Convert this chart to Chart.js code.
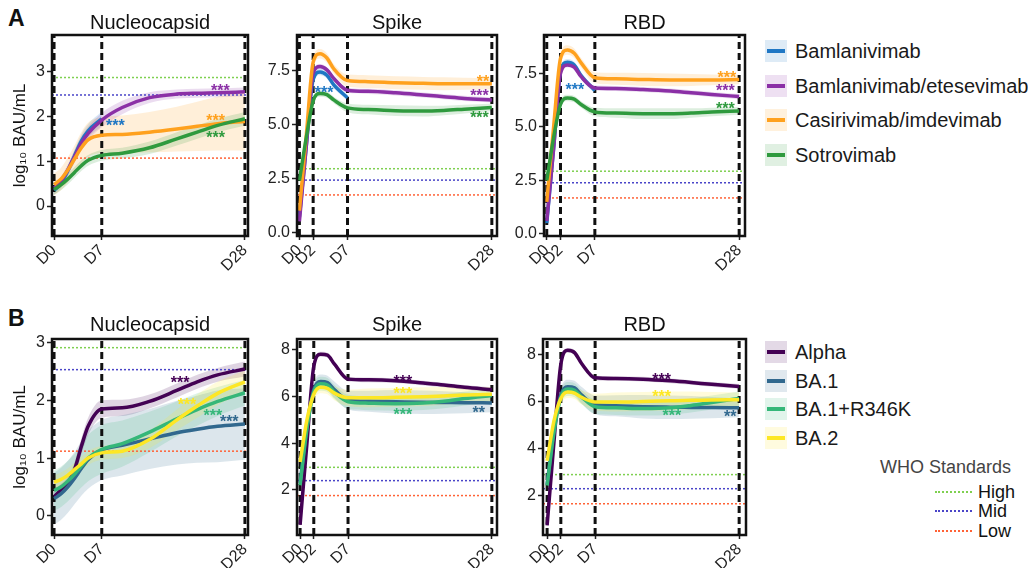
<!DOCTYPE html>
<html lang="en">
<head>
<meta charset="UTF-8">
<title>Antibody kinetics after monoclonal antibody treatment</title>
<script src="https://cdn.jsdelivr.net/npm/chart.js@4"></script>
<style>
  body { margin: 0; background: #fff; font-family: "Liberation Sans", Arial, Helvetica, sans-serif; }
  #fig { position: relative; width: 1028px; height: 568px; overflow: hidden; }
  #fig canvas { position: absolute; }
  .txt { position: absolute; white-space: nowrap; line-height: 1; }
  .letter { font-weight: bold; font-size: 23px; color: #111; }
  .sw { position: absolute; width: 22px; height: 22px; }
  .sw i { position: absolute; left: 2px; right: 2px; top: 9px; height: 4px; }
</style>
</head>
<body>
<div id="fig">
  <div class="txt letter" style="left:8px;top:7px">A</div>
  <div class="txt letter" style="left:8px;top:307px">B</div>
  <canvas id="a1" width="256" height="280" style="left:0;top:0"></canvas>
  <canvas id="a2" width="248" height="280" style="left:256px;top:0"></canvas>
  <canvas id="a3" width="256" height="280" style="left:504px;top:0"></canvas>
  <canvas id="b1" width="256" height="278" style="left:0;top:290px"></canvas>
  <canvas id="b2" width="248" height="278" style="left:256px;top:290px"></canvas>
  <canvas id="b3" width="256" height="278" style="left:504px;top:290px"></canvas>
</div>
<script>
// sampling days (x) shared by every curve
const days = [0, 1, 2, 3, 4, 5, 7, 10, 14, 18, 21, 24, 28];
const nucCutDays = [0, 7, 28];
const spikeCutDays = [0, 2, 7, 28];

const mabNames = ['Bamlanivimab', 'Bamlanivimab/etesevimab', 'Casirivimab/imdevimab', 'Sotrovimab'];
const mabColors = ['#1f77c4', '#8b30a6', '#ffa11e', '#2f9a3e'];
const variantNames = ['Alpha', 'BA.1', 'BA.1+R346K', 'BA.2'];
const variantColors = ['#440154', '#31688e', '#35b779', '#fde725'];
const whoNames = ['High', 'Mid', 'Low'];
const whoColors = ['#7fd050', '#4a45c8', '#ff6236'];

// y ticks
const nucTicks = [0, 1, 2, 3];
const nucTickLabels = ['0', '1', '2', '3'];
const aSpikeTicks = [0, 2.5, 5, 7.5];
const aSpikeTickLabels = ['0.0', '2.5', '5.0', '7.5'];
const bSpikeTicks = [2, 4, 6, 8];
const bSpikeTickLabels = ['2', '4', '6', '8'];

// A - Nucleocapsid
const aNucBam      = [0.35, 0.5, 0.78, 1.12, 1.45, 1.68, 1.95, null, null, null, null, null, null];
const aNucBamCi    = [0.1, 0.1, 0.12, 0.14, 0.15, 0.15, 0.16, 0, 0, 0, 0, 0, 0];
const aNucBamEte   = [0.4, 0.55, 0.8, 1.1, 1.4, 1.62, 1.92, 2.2, 2.42, 2.5, 2.52, 2.53, 2.55];
const aNucBamEteCi = [0.1, 0.1, 0.12, 0.14, 0.15, 0.15, 0.16, 0.15, 0.12, 0.1, 0.1, 0.1, 0.1];
const aNucCas      = [0.48, 0.6, 0.8, 1.05, 1.3, 1.48, 1.58, 1.6, 1.65, 1.72, 1.78, 1.84, 1.89];
const aNucCasCi    = [0.25, 0.25, 0.28, 0.3, 0.35, 0.38, 0.4, 0.42, 0.45, 0.5, 0.55, 0.6, 0.65];
const aNucSot      = [0.37, 0.47, 0.6, 0.75, 0.9, 1.02, 1.13, 1.18, 1.3, 1.5, 1.65, 1.8, 1.95];
const aNucSotCi    = [0.12, 0.12, 0.12, 0.12, 0.12, 0.12, 0.12, 0.12, 0.14, 0.15, 0.15, 0.15, 0.15];
const aNucWho = [2.87, 2.48, 1.07];
const aNucStarDays = [9, 24.4, 23.7, 23.7];
const aNucStarVals = [1.87, 2.64, 1.97, 1.6];
const aNucStarText = ['***', '***', '***', '***'];

// A - Spike
const aSpkBam      = [0.7, 4.0, 7.1, 7.45, 7.3, 6.85, 6.25, null, null, null, null, null, null];
const aSpkBamCi    = [0.15, 0.15, 0.15, 0.15, 0.15, 0.15, 0.15, 0, 0, 0, 0, 0, 0];
const aSpkBamEte   = [0.5, 4.0, 7.4, 7.7, 7.55, 7.15, 6.6, 6.55, 6.48, 6.38, 6.3, 6.22, 6.15];
const aSpkBamEteCi = [0.12, 0.12, 0.12, 0.12, 0.12, 0.12, 0.12, 0.12, 0.12, 0.12, 0.12, 0.12, 0.12];
const aSpkCas      = [1.0, 4.5, 7.9, 8.3, 8.1, 7.6, 7.05, 7.0, 6.95, 6.92, 6.9, 6.9, 6.9];
const aSpkCasCi    = [0.3, 0.3, 0.25, 0.22, 0.22, 0.22, 0.28, 0.3, 0.3, 0.3, 0.3, 0.28, 0.25];
const aSpkSot      = [2.4, 4.4, 6.1, 6.45, 6.4, 6.15, 5.78, 5.7, 5.65, 5.63, 5.66, 5.72, 5.8];
const aSpkSotCi    = [0.2, 0.2, 0.15, 0.15, 0.15, 0.15, 0.2, 0.22, 0.25, 0.25, 0.22, 0.2, 0.18];
const aSpkWho = [2.95, 2.42, 1.73];
const aSpkStarDays = [3.6, 26.2, 26.7, 26.2];
const aSpkStarVals = [6.65, 6.47, 7.13, 5.46];
const aSpkStarText = ['***', '***', '**', '***'];

// A - RBD
const aRbdBam      = [0.5, 4.0, 7.6, 8.03, 7.9, 7.4, 6.7, null, null, null, null, null, null];
const aRbdBamCi    = [0.15, 0.15, 0.15, 0.15, 0.15, 0.15, 0.15, 0, 0, 0, 0, 0, 0];
const aRbdBamEte   = [0.6, 4.0, 7.5, 7.9, 7.8, 7.35, 6.82, 6.8, 6.75, 6.68, 6.6, 6.52, 6.42];
const aRbdBamEteCi = [0.12, 0.12, 0.12, 0.12, 0.12, 0.12, 0.12, 0.12, 0.12, 0.12, 0.12, 0.12, 0.12];
const aRbdCas      = [1.5, 5.0, 8.2, 8.6, 8.45, 8.0, 7.3, 7.25, 7.22, 7.2, 7.2, 7.2, 7.22];
const aRbdCasCi    = [0.3, 0.3, 0.25, 0.22, 0.22, 0.22, 0.25, 0.28, 0.3, 0.3, 0.28, 0.25, 0.22];
const aRbdSot      = [2.5, 4.5, 6.05, 6.35, 6.3, 6.05, 5.7, 5.65, 5.62, 5.62, 5.65, 5.7, 5.75];
const aRbdSotCi    = [0.2, 0.2, 0.15, 0.15, 0.15, 0.15, 0.2, 0.22, 0.25, 0.25, 0.22, 0.2, 0.18];
const aRbdWho = [2.93, 2.39, 1.68];
const aRbdStarDays = [4.1, 26, 26.2, 26];
const aRbdStarVals = [6.91, 6.82, 7.45, 5.99];
const aRbdStarText = ['***', '***', '***', '***'];

// B - Nucleocapsid
const bNucAlpha   = [0.33, 0.45, 0.57, 0.8, 1.2, 1.55, 1.85, 1.87, 1.98, 2.17, 2.32, 2.44, 2.54];
const bNucAlphaCi = [0.1, 0.1, 0.1, 0.12, 0.14, 0.15, 0.15, 0.14, 0.12, 0.12, 0.12, 0.12, 0.13];
const bNucBa1     = [0.3, 0.38, 0.5, 0.65, 0.82, 0.97, 1.14, 1.22, 1.33, 1.44, 1.5, 1.55, 1.59];
const bNucBa1Ci   = [0.45, 0.45, 0.45, 0.45, 0.47, 0.5, 0.52, 0.52, 0.52, 0.55, 0.58, 0.62, 0.62];
const bNucR346    = [0.44, 0.5, 0.6, 0.72, 0.86, 1.0, 1.15, 1.25, 1.45, 1.68, 1.84, 1.98, 2.13];
const bNucR346Ci  = [0.35, 0.35, 0.35, 0.35, 0.37, 0.4, 0.42, 0.4, 0.35, 0.3, 0.28, 0.25, 0.22];
const bNucBa2     = [0.58, 0.63, 0.7, 0.8, 0.9, 1.0, 1.09, 1.12, 1.32, 1.66, 1.9, 2.12, 2.32];
const bNucBa2Ci   = [0.12, 0.12, 0.12, 0.12, 0.12, 0.12, 0.12, 0.12, 0.15, 0.18, 0.2, 0.2, 0.2];
const bNucWho = [2.91, 2.53, 1.12];
const bNucStarDays = [18.5, 25.7, 23.3, 19.5];
const bNucStarVals = [2.35, 1.69, 1.78, 1.98];
const bNucStarText = ['***', '***', '***', '***'];

// B - Spike
const bSpkAlpha   = [0.5, 4.0, 7.3, 7.82, 7.78, 7.4, 6.75, 6.72, 6.68, 6.58, 6.5, 6.4, 6.3];
const bSpkAlphaCi = [0.1, 0.1, 0.1, 0.1, 0.1, 0.1, 0.1, 0.1, 0.1, 0.1, 0.1, 0.1, 0.1];
const bSpkBa1     = [2.3, 4.7, 6.3, 6.65, 6.6, 6.3, 5.85, 5.8, 5.78, 5.76, 5.75, 5.74, 5.73];
const bSpkBa1Ci   = [0.3, 0.3, 0.3, 0.3, 0.3, 0.35, 0.4, 0.45, 0.5, 0.5, 0.48, 0.45, 0.4];
const bSpkR346    = [2.2, 4.6, 6.2, 6.55, 6.5, 6.2, 5.78, 5.72, 5.7, 5.73, 5.8, 5.92, 6.05];
const bSpkR346Ci  = [0.3, 0.3, 0.3, 0.3, 0.3, 0.3, 0.3, 0.3, 0.3, 0.3, 0.3, 0.3, 0.3];
const bSpkBa2     = [3.2, 5.0, 6.1, 6.4, 6.35, 6.15, 5.95, 5.95, 5.97, 6.0, 6.03, 6.07, 6.1];
const bSpkBa2Ci   = [0.3, 0.3, 0.25, 0.25, 0.25, 0.3, 0.35, 0.4, 0.4, 0.4, 0.38, 0.35, 0.3];
const bSpkWho = [2.97, 2.4, 1.76];
const bSpkStarDays = [15, 26.1, 15, 15];
const bSpkStarVals = [6.79, 5.43, 5.36, 6.24];
const bSpkStarText = ['***', '**', '***', '***'];

// B - RBD
const bRbdAlpha   = [0.75, 4.3, 7.6, 8.2, 8.1, 7.65, 7.03, 7.0, 6.97, 6.9, 6.83, 6.75, 6.66];
const bRbdAlphaCi = [0.1, 0.1, 0.1, 0.1, 0.1, 0.1, 0.1, 0.1, 0.1, 0.1, 0.1, 0.1, 0.1];
const bRbdBa1     = [2.5, 4.8, 6.3, 6.65, 6.6, 6.3, 5.88, 5.84, 5.8, 5.78, 5.77, 5.76, 5.75];
const bRbdBa1Ci   = [0.3, 0.3, 0.3, 0.3, 0.3, 0.35, 0.4, 0.45, 0.5, 0.5, 0.48, 0.45, 0.4];
const bRbdR346    = [2.45, 4.7, 6.2, 6.55, 6.5, 6.22, 5.8, 5.75, 5.72, 5.75, 5.85, 5.98, 6.15];
const bRbdR346Ci  = [0.3, 0.3, 0.3, 0.3, 0.3, 0.3, 0.3, 0.3, 0.3, 0.3, 0.3, 0.3, 0.3];
const bRbdBa2     = [3.5, 5.2, 6.15, 6.42, 6.38, 6.2, 6.0, 6.0, 6.02, 6.05, 6.07, 6.08, 6.1];
const bRbdBa2Ci   = [0.3, 0.3, 0.25, 0.25, 0.25, 0.3, 0.35, 0.4, 0.4, 0.4, 0.38, 0.35, 0.3];
const bRbdWho = [2.91, 2.31, 1.67];
const bRbdStarDays = [16.7, 26.7, 18.2, 16.7];
const bRbdStarVals = [7.1, 5.49, 5.54, 6.34];
const bRbdStarText = ['***', '**', '***', '***'];

Chart.defaults.font.family = '"Liberation Sans", Arial, Helvetica, sans-serif';
Chart.defaults.color = '#222';

function tint(hex, a) {
  const n = parseInt(hex.slice(1), 16);
  return 'rgba(' + (n >> 16) + ',' + ((n >> 8) & 255) + ',' + (n & 255) + ',' + a + ')';
}

function pts(vals, ci, sign) {
  const out = [];
  days.forEach((d, i) => {
    if (vals[i] !== null) out.push({ x: d, y: vals[i] + sign * (ci ? ci[i] : 0) });
  });
  return out;
}

// black frame round the panel
const boxPlugin = {
  id: 'panelBox',
  afterDraw(chart) {
    const a = chart.chartArea, ctx = chart.ctx;
    ctx.save();
    ctx.strokeStyle = '#111';
    ctx.lineWidth = 2.5;
    ctx.setLineDash([]);
    ctx.strokeRect(a.left, a.top, a.right - a.left, a.bottom - a.top);
    ctx.restore();
  }
};

function starPlugin(p) {
  return {
    id: 'stars',
    afterDatasetsDraw(chart) {
      const xs = chart.scales.x, ys = chart.scales.y, ctx = chart.ctx;
      ctx.save();
      ctx.font = 'bold 16px "Liberation Sans", Arial, sans-serif';
      ctx.textAlign = 'center';
      ctx.textBaseline = 'middle';
      p.starDays.forEach((d, i) => {
        ctx.fillStyle = p.colors[i];
        ctx.fillText(p.starText[i], xs.getPixelForValue(d), ys.getPixelForValue(p.starVals[i]) + 4);
      });
      ctx.restore();
    }
  };
}

function buildDatasets(p) {
  const ds = [];
  p.means.forEach((m, i) => {
    ds.push({ data: pts(m, p.cis[i], 1), borderWidth: 0, borderColor: 'transparent', pointRadius: 0,
      fill: '+1', backgroundColor: tint(p.colors[i], 0.17), cubicInterpolationMode: 'monotone', order: 100 - i });
    ds.push({ data: pts(m, p.cis[i], -1), borderWidth: 0, borderColor: 'transparent', pointRadius: 0,
      fill: false, cubicInterpolationMode: 'monotone', order: 100 - i });
  });
  p.who.forEach((v, i) => ds.push({ data: [{ x: p.xMin, y: v }, { x: p.xMax, y: v }],
    borderColor: whoColors[i], borderWidth: 1.5, borderDash: [2, 2], pointRadius: 0, fill: false, order: 50 }));
  p.cuts.forEach(d => ds.push({ data: [{ x: d, y: p.yMin }, { x: d, y: p.yMax }],
    borderColor: '#111', borderWidth: 3, borderDash: [7, 4], pointRadius: 0, fill: false, order: 40 }));
  p.means.forEach((m, i) => ds.push({ data: pts(m, null, 0), borderColor: p.colors[i], borderWidth: 3.5,
    pointRadius: 0, fill: false, cubicInterpolationMode: 'monotone', order: 10 - i }));
  return ds;
}

function makePanel(p) {
  new Chart(document.getElementById(p.id), {
    type: 'line',
    data: { datasets: buildDatasets(p) },
    options: {
      responsive: false,
      animation: false,
      events: [],
      layout: { padding: { left: 0, right: p.padRight, top: 0, bottom: 0 } },
      plugins: {
        legend: { display: false },
        tooltip: { enabled: false },
        title: { display: true, text: p.title, fullSize: false, color: '#111',
          font: { size: 20, weight: 'normal' }, padding: { top: p.titleTop, bottom: p.titleBottom } }
      },
      scales: {
        x: {
          type: 'linear', min: p.xMin, max: p.xMax,
          afterBuildTicks: s => { s.ticks = p.cuts.map(v => ({ value: v })); },
          afterFit: s => { s.height = p.xHeight; s.paddingLeft = 0; s.paddingRight = 0; },
          ticks: { callback: v => 'D' + v, minRotation: 45, maxRotation: 45, autoSkip: false,
            font: { size: 16 }, color: '#222', padding: 1 },
          grid: { drawOnChartArea: false, tickLength: 4, tickColor: '#222', tickWidth: 1.5 },
          border: { display: false }
        },
        y: {
          min: p.yMin, max: p.yMax,
          afterBuildTicks: s => { s.ticks = p.yTicks.map(v => ({ value: v })); },
          afterFit: s => { s.width = p.yWidth; s.paddingTop = 0; s.paddingBottom = 0; },
          ticks: { callback: (v, i) => p.yTickLabels[i], font: { size: 16 }, color: '#222', padding: 2 },
          grid: { drawOnChartArea: false, tickLength: 5, tickColor: '#222', tickWidth: 1.5 },
          border: { display: false },
          title: { display: p.yTitle, text: 'log\u2081\u2080 BAU/mL', color: '#111',
            font: { size: 17 }, padding: { top: 10, bottom: 0 } }
        }
      }
    },
    plugins: [boxPlugin, starPlugin(p)]
  });
}

const rowA = { titleTop: 11, titleBottom: 0, xHeight: 44 };
const rowB = { titleTop: 23, titleBottom: 2, xHeight: 33 };

makePanel(Object.assign({ id: 'a1', title: 'Nucleocapsid', yTitle: true, yWidth: 52, padRight: 8,
  xMin: -0.3, xMax: 28.45, yMin: -0.67, yMax: 3.82, yTicks: nucTicks, yTickLabels: nucTickLabels,
  cuts: nucCutDays, colors: mabColors, who: aNucWho,
  means: [aNucBam, aNucBamEte, aNucCas, aNucSot], cis: [aNucBamCi, aNucBamEteCi, aNucCasCi, aNucSotCi],
  starDays: aNucStarDays, starVals: aNucStarVals, starText: aNucStarText }, rowA));

makePanel(Object.assign({ id: 'a2', title: 'Spike', yTitle: false, yWidth: 41, padRight: 7,
  xMin: -0.35, xMax: 28.75, yMin: -0.18, yMax: 9.17, yTicks: aSpikeTicks, yTickLabels: aSpikeTickLabels,
  cuts: spikeCutDays, colors: mabColors, who: aSpkWho,
  means: [aSpkBam, aSpkBamEte, aSpkCas, aSpkSot], cis: [aSpkBamCi, aSpkBamEteCi, aSpkCasCi, aSpkSotCi],
  starDays: aSpkStarDays, starVals: aSpkStarVals, starText: aSpkStarText }, rowA));

makePanel(Object.assign({ id: 'a3', title: 'RBD', yTitle: false, yWidth: 40, padRight: 15,
  xMin: -0.4, xMax: 28.85, yMin: -0.1, yMax: 9.3, yTicks: aSpikeTicks, yTickLabels: aSpikeTickLabels,
  cuts: spikeCutDays, colors: mabColors, who: aRbdWho,
  means: [aRbdBam, aRbdBamEte, aRbdCas, aRbdSot], cis: [aRbdBamCi, aRbdBamEteCi, aRbdCasCi, aRbdSotCi],
  starDays: aRbdStarDays, starVals: aRbdStarVals, starText: aRbdStarText }, rowA));

makePanel(Object.assign({ id: 'b1', title: 'Nucleocapsid', yTitle: true, yWidth: 52, padRight: 8,
  xMin: -0.3, xMax: 28.45, yMin: -0.33, yMax: 3.06, yTicks: nucTicks, yTickLabels: nucTickLabels,
  cuts: nucCutDays, colors: variantColors, who: bNucWho,
  means: [bNucAlpha, bNucBa1, bNucR346, bNucBa2], cis: [bNucAlphaCi, bNucBa1Ci, bNucR346Ci, bNucBa2Ci],
  starDays: bNucStarDays, starVals: bNucStarVals, starText: bNucStarText }, rowB));

makePanel(Object.assign({ id: 'b2', title: 'Spike', yTitle: false, yWidth: 41, padRight: 7,
  xMin: -0.45, xMax: 28.75, yMin: 0.07, yMax: 8.47, yTicks: bSpikeTicks, yTickLabels: bSpikeTickLabels,
  cuts: spikeCutDays, colors: variantColors, who: bSpkWho,
  means: [bSpkAlpha, bSpkBa1, bSpkR346, bSpkBa2], cis: [bSpkAlphaCi, bSpkBa1Ci, bSpkR346Ci, bSpkBa2Ci],
  starDays: bSpkStarDays, starVals: bSpkStarVals, starText: bSpkStarText }, rowB));

makePanel(Object.assign({ id: 'b3', title: 'RBD', yTitle: false, yWidth: 39, padRight: 14,
  xMin: -0.6, xMax: 29.0, yMin: 0.34, yMax: 8.68, yTicks: bSpikeTicks, yTickLabels: bSpikeTickLabels,
  cuts: spikeCutDays, colors: variantColors, who: bRbdWho,
  means: [bRbdAlpha, bRbdBa1, bRbdR346, bRbdBa2], cis: [bRbdAlphaCi, bRbdBa1Ci, bRbdR346Ci, bRbdBa2Ci],
  starDays: bRbdStarDays, starVals: bRbdStarVals, starText: bRbdStarText }, rowB));

// legends
const fig = document.getElementById('fig');
function addText(text, left, cy, size, color) {
  const d = document.createElement('div');
  d.className = 'txt';
  d.textContent = text;
  d.style.cssText = 'left:' + left + 'px;top:' + (cy - size / 2) + 'px;font-size:' + size + 'px;height:' + size + 'px;line-height:' + size + 'px;color:' + color;
  fig.appendChild(d);
}
function addLegend(names, colors, top, step) {
  names.forEach((n, i) => {
    const cy = top + i * step;
    const sw = document.createElement('div');
    sw.className = 'sw';
    sw.style.left = '765px';
    sw.style.top = (cy - 11) + 'px';
    sw.style.background = tint(colors[i], 0.15);
    const line = document.createElement('i');
    line.style.background = colors[i];
    sw.appendChild(line);
    fig.appendChild(sw);
    addText(n, 795, cy, 20, '#1a1a1a');
  });
}
addLegend(mabNames, mabColors, 51, 34.5);
addLegend(variantNames, variantColors, 352, 28.6);

addText('WHO Standards', 880, 467, 18, '#444');
whoNames.forEach((n, i) => {
  const cy = 492 + i * 19.3;
  const l = document.createElement('div');
  l.style.cssText = 'position:absolute;left:935px;width:37px;top:' + (cy - 1) + 'px;border-top:2px dotted ' + whoColors[i];
  fig.appendChild(l);
  addText(n, 978, cy, 18, '#111');
});
</script>
</body>
</html>
